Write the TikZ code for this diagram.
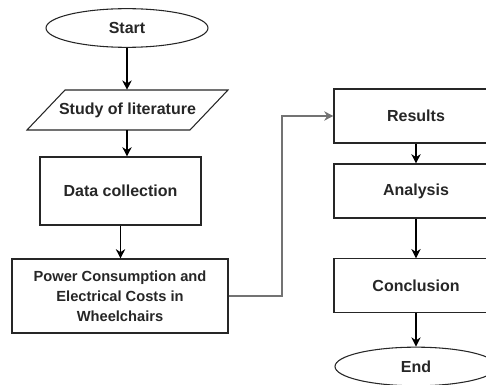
\documentclass[tikz,border=0pt]{standalone}
\usepackage{fontspec}
\setmainfont{Liberation Sans}
\usetikzlibrary{arrows.meta,shapes.geometric}

\begin{document}
\begin{tikzpicture}[x=0.75pt,y=-0.75pt,
  every node/.style={text=black!85,font=\bfseries\fontsize{12}{15}\selectfont,inner sep=0pt},
  outline/.style={draw=black!85,line width=0.8pt},
  terminal/.style={outline,ellipse,minimum width=121.5pt,minimum height=29pt},
  stepbox/.style={outline,rectangle,minimum width=123pt,minimum height=40.5pt},
  arrow/.style={-{Stealth[length=7pt,width=7pt]},line width=0.8pt,black},
  link/.style={-{Stealth[length=7pt,width=7pt]},line width=0.8pt,black!55}]
\useasboundingbox (0,0) rectangle (486,385);

% left column
\node [terminal] (start) at (127,28) {Start};
\node [minimum width=150.75pt,minimum height=30pt] (study) at (127.5,110) {Study of literature};
\draw [outline] (27,130) -- (65,90) -- (228,90) -- (190,130) -- cycle;
\node [stepbox,minimum width=120.75pt,minimum height=51pt] (data) at (120.5,191) {Data collection};
\node [stepbox,minimum width=162pt,minimum height=55.5pt,align=center,font=\bfseries\fontsize{11}{15}\selectfont] (power) at (120,296)
  {Power Consumption and\\Electrical Costs in\\Wheelchairs};

% right column
\node [stepbox] (results) at (416,116) {Results};
\node [stepbox] (analysis) at (416,191) {Analysis};
\node [stepbox,minimum height=40pt] (concl) at (416,285.5) {Conclusion};
\node [terminal] (end) at (416,366.5) {End};
\coordinate (bend) at (282,116);

\draw [arrow] (start) -- (start |- study.north);
\draw [arrow] (start |- study.south) -- (start |- data.north);
\draw [arrow] (data.south) -- (data.south |- power.north);
\draw [link] (power.east) -| (bend) -- (results.west);
\draw [arrow] (results) -- (analysis);
\draw [arrow] (analysis) -- (concl);
\draw [arrow] (concl) -- (end);
\end{tikzpicture}
\end{document}
